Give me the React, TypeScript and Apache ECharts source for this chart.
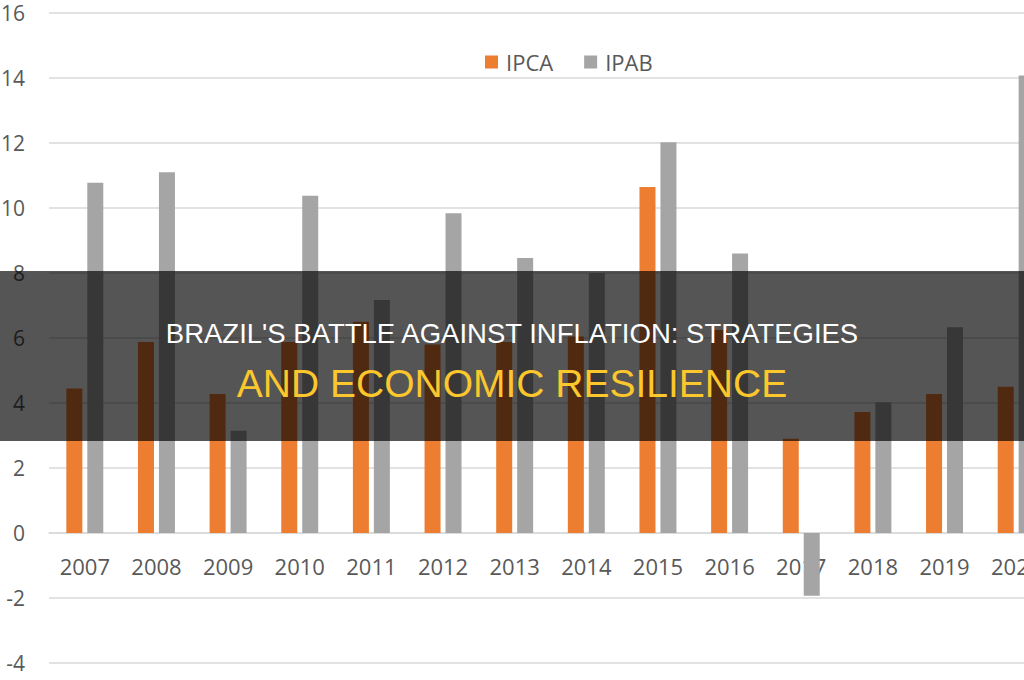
import React, { useEffect, useRef } from "react";
import * as echarts from "echarts";

// Annual inflation, % — IPCA (consumer prices) vs IPAB (agricultural producer prices)
const years = ["2007", "2008", "2009", "2010", "2011", "2012", "2013", "2014", "2015", "2016", "2017", "2018", "2019", "2020"];
const ipca = [4.45, 5.88, 4.28, 5.88, 6.5, 5.8, 5.88, 6.05, 10.65, 6.25, 2.9, 3.72, 4.28, 4.5];
const ipab = [10.78, 11.1, 3.15, 10.38, 7.17, 9.84, 8.46, 8.0, 12.02, 8.6, -1.93, 4.02, 6.33, 14.08];

const titleLine1 = "BRAZIL'S BATTLE AGAINST INFLATION: STRATEGIES";
const titleLine2 = "AND ECONOMIC RESILIENCE";

const axisFont = "'Open Sans', 'DejaVu Sans', sans-serif";
const titleFont = "'Liberation Sans', Arial, sans-serif";

export default function App() {
  const ref = useRef<HTMLDivElement>(null);

  useEffect(() => {
    if (!ref.current) return;
    const chart = echarts.init(ref.current, undefined, { renderer: "svg" });
    chart.setOption({
      animation: false,
      backgroundColor: "#ffffff",
      grid: {
        left: 49,
        top: 13,
        width: 1003,
        height: 650,
        containLabel: false,
        outerBoundsMode: "none",
      },
      legend: {
        data: ["IPCA", "IPAB"],
        left: 480,
        top: 46,
        itemWidth: 13,
        itemHeight: 13,
        itemGap: 31,
        icon: "rect",
        textStyle: { color: "#595959", fontSize: 22, fontFamily: axisFont, padding: [0, 0, 0, 3] },
      },
      xAxis: {
        type: "category",
        data: years,
        // the category axis sits on the zero line (4 units above the grid bottom)
        offset: -130,
        axisLine: { onZero: false, lineStyle: { color: "#d9d9d9", width: 1.5 } },
        axisTick: { show: false },
        axisLabel: { color: "#595959", fontSize: 22, fontFamily: axisFont, margin: 22 },
      },
      yAxis: {
        type: "value",
        min: -4,
        max: 16,
        interval: 2,
        axisLine: { show: false },
        axisTick: { show: false },
        axisLabel: { color: "#595959", fontSize: 21, fontFamily: axisFont, margin: 24 },
        splitLine: { lineStyle: { color: "#d9d9d9", width: 1.5 } },
      },
      series: [
        {
          name: "IPCA",
          type: "bar",
          data: ipca,
          barWidth: 16,
          barGap: "31%",
          itemStyle: { color: "#ED7D31" },
        },
        {
          name: "IPAB",
          type: "bar",
          data: ipab,
          barWidth: 16,
          barGap: "31%",
          itemStyle: { color: "#A5A5A5" },
        },
      ],
      graphic: [
        {
          type: "rect",
          z: 100,
          shape: { x: 0, y: 271, width: 1024, height: 170 },
          style: { fill: "rgba(0,0,0,0.665)" },
        },
        {
          type: "text",
          z: 101,
          x: 512,
          y: 333,
          style: {
            text: titleLine1,
            fill: "#ffffff",
            fontSize: 27.5,
            fontFamily: titleFont,
            align: "center",
            verticalAlign: "middle",
          },
        },
        {
          type: "text",
          z: 101,
          x: 512,
          y: 383,
          style: {
            text: titleLine2,
            fill: "#FCC72C",
            fontSize: 39,
            fontFamily: titleFont,
            align: "center",
            verticalAlign: "middle",
          },
        },
      ],
    });
    return () => chart.dispose();
  }, []);

  return (
    <div
      ref={ref}
      style={{ position: "fixed", left: 0, top: 0, width: 1024, height: 680 }}
    />
  );
}
